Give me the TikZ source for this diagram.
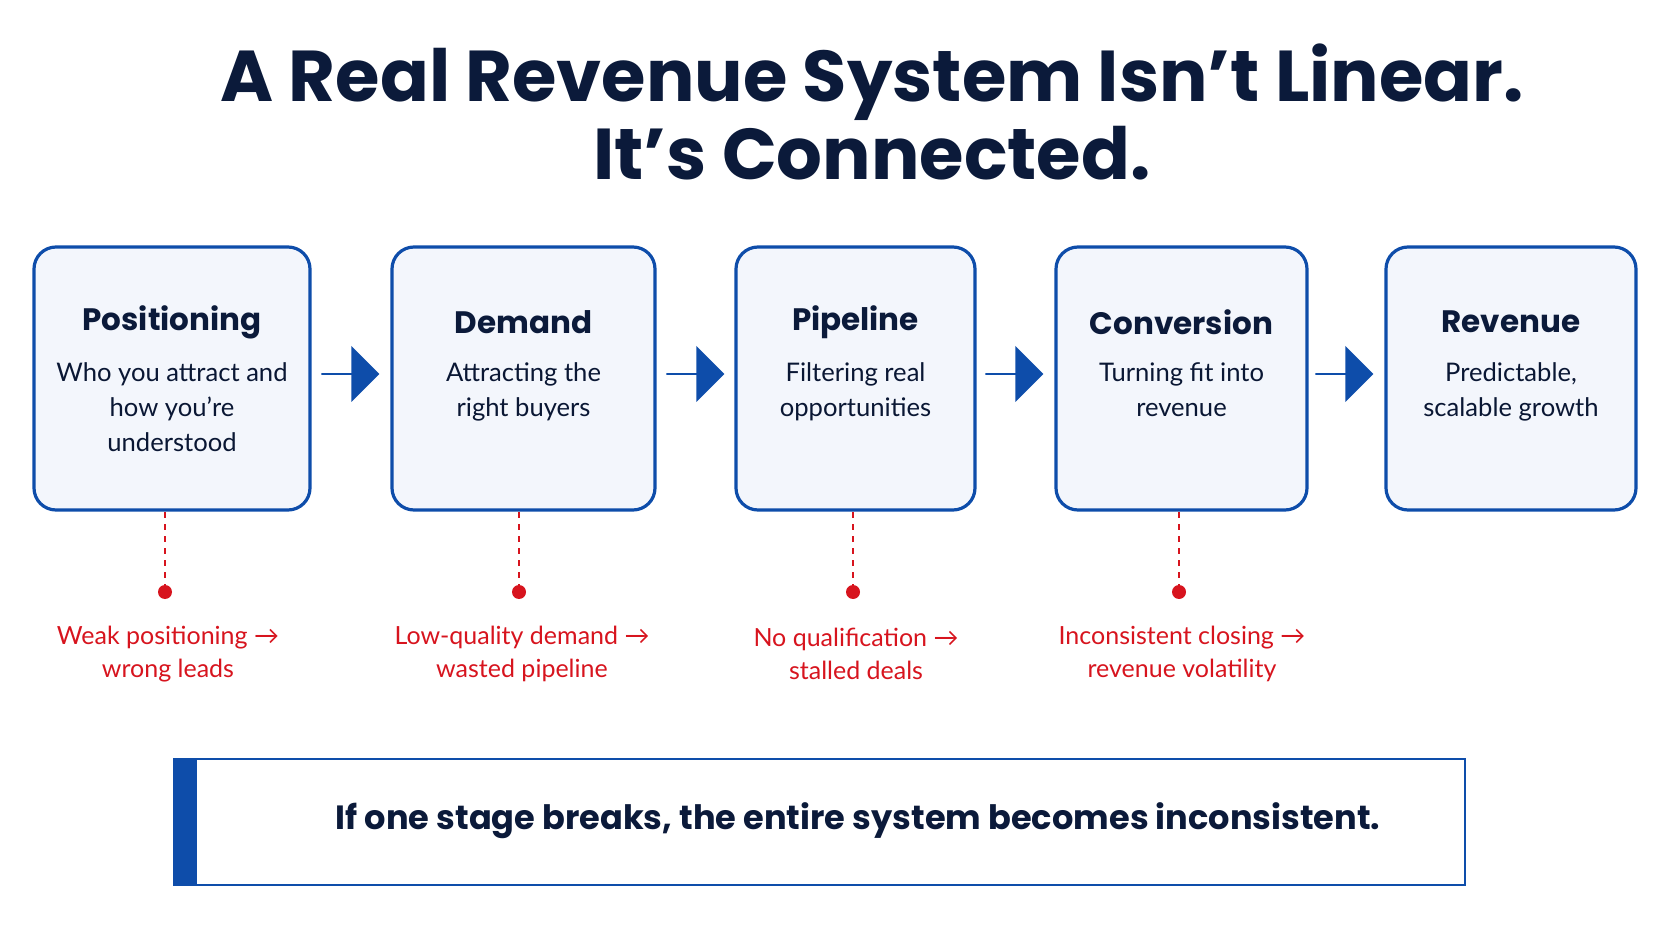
\documentclass[tikz,border=0pt]{standalone}
\usepackage{fontspec}
\setmainfont{Lato}
\newfontfamily\headfont{Poppins}
\usetikzlibrary{positioning,shapes.arrows,calc}
\definecolor{stageBlue}{HTML}{0E4DAA}
\definecolor{titleNavy}{HTML}{0B1A3A}
\definecolor{breakRed}{HTML}{D7141E}
\definecolor{stageFill}{HTML}{F3F6FC}

\begin{document}
\begin{tikzpicture}[x=0.5pt,y=-0.5pt,align=center]
    \tikzstyle{stage}=[draw=stageBlue,line width=1.6pt,rounded corners=11pt,fill=stageFill]
    \tikzstyle{stageHead}=[font=\headfont\bfseries\fontsize{15.5}{18}\selectfont,text=titleNavy]
    \tikzstyle{stageBody}=[font=\fontsize{12.8}{17.5}\selectfont,text=titleNavy!90!black,anchor=north]
    \tikzstyle{flow}=[single arrow,fill=stageBlue,minimum height=29pt,minimum width=28pt,
      single arrow head extend=6.5pt,inner sep=0pt]
    \tikzstyle{breakDot}=[circle,fill=breakRed,inner sep=0pt,minimum size=7pt]
    \tikzstyle{breakText}=[font=\fontsize{12.5}{16.5}\selectfont,text=breakRed]
    \useasboundingbox (0,0) rectangle (1672,941);
    % Title
    \node (title) at (872,112) [font=\headfont\bfseries\fontsize{36}{39}\selectfont,text=titleNavy]
      {A Real Revenue System Isn’t Linear.\\It’s Connected.};
    % Stages
    \foreach \name/\xa/\xb/\head/\body in {
        pos/34/310/Positioning/{Who you attract and\\how you’re\\understood},
        dem/392/655/Demand/{Attracting the\\right buyers},
        pip/736/975/Pipeline/{Filtering real\\opportunities},
        con/1056/1307/Conversion/{Turning fit into\\revenue},
        rev/1386/1636/Revenue/{Predictable,\\scalable growth}} {
      \draw[stage] (\xa,247) rectangle (\xb,510);
      \coordinate (\name) at ({(\xa+\xb)/2},510);
      \node (\name Head) at ({(\xa+\xb)/2},322) [stageHead] {\head};
      \node (\name Body) at ({(\xa+\xb)/2},356) [stageBody] {\body};
    }
    % Flow arrows
    \foreach \xc in {352,697,1016,1346}
      \node[flow] at (\xc-2,374) {};
    % Break points
    \foreach \name/\xd/\txt in {
        pos/165/{Weak positioning →\\wrong leads},
        dem/519/{Low-quality demand →\\wasted pipeline},
        pip/853/{No qualification →\\stalled deals},
        con/1179/{Inconsistent closing →\\revenue volatility}} {
      \node (\name Dot) at (\xd,592) [breakDot] {};
      \draw[breakRed,dashed,line width=0.8pt] (\xd,512) -- (\name Dot);
      \node (\name Break) at (\xd+3,654) [breakText] {\txt};
    }
    % Banner
    \draw[stageBlue,line width=0.9pt,fill=white] (174,759) rectangle (1465,885);
    \fill[stageBlue] (174,759) rectangle (197,885);
    \node (moral) at (858,821) [font=\headfont\bfseries\fontsize{16.8}{18}\selectfont,text=titleNavy]
      {If one stage breaks, the entire system becomes inconsistent.};
  \end{tikzpicture}
\end{document}
